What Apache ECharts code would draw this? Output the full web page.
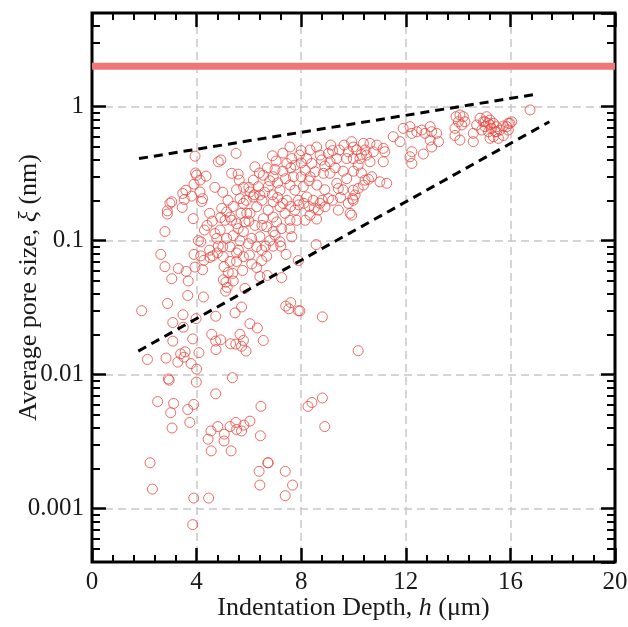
<!DOCTYPE html>
<html>
<head>
<meta charset="utf-8">
<script src="https://cdn.jsdelivr.net/npm/echarts@6/dist/echarts.min.js"></script>
<style>html,body{margin:0;padding:0;background:#fff}#chart{width:628px;height:627px}</style>
</head>
<body>
<div id="chart"></div>
<script>
// ---- data (indentation depth h in µm, average pore size xi in nm) ----
const depth = [
  2.92,2.95,5.37,3.99,4.73,2.51,3.12,3.89,3.01,3.66,3.06,3.74,6.46,4.55,4.81,4.44,5.06,5.05,4.56,5.28,5.50,5.53,5.72,5.81,6.04,5.32,6.44,6.72,6.74,6.39,7.39,6.42,7.67,7.39,2.22,2.31,3.89,4.46,3.85,8.26,8.41,8.81,8.90,
  2.79,3.05,3.30,3.60,3.68,3.66,2.89,1.90,3.48,3.09,3.49,3.09,3.39,3.56,3.28,3.52,3.79,4.00,2.12,2.83,3.85,4.09,4.26,3.98,4.73,4.58,4.73,4.74,4.92,5.30,5.50,5.66,5.79,5.72,5.89,6.04,6.32,6.55,5.47,5.72,5.11,5.17,5.85,5.40,5.12,6.42,6.70,7.25,7.41,7.60,7.53,7.89,7.95,8.81,10.18,7.89,8.57,7.22,3.94,4.23,4.28,4.51,5.05,5.28,5.21,5.02,5.38,5.76,5.53,6.11,6.30,6.49,6.68,6.02,5.98,6.49,6.63,6.93,7.42,4.83,
  3.94,4.83,4.93,5.51,3.96,4.00,4.36,4.13,3.90,5.34,5.59,5.63,5.53,3.59,3.47,3.81,3.53,4.13,4.23,4.19,3.05,2.98,3.45,2.88,2.88,3.87,2.79,2.63,5.66,4.96,5.15,5.28,4.92,5.09,5.34,5.53,5.59,4.70,4.77,5.15,5.40,5.66,4.07,4.16,3.90,4.16,4.62,4.79,5.02,5.28,5.53,5.79,
  7.57,7.04,7.45,7.64,7.76,7.93,8.21,8.34,8.59,8.72,8.78,9.04,9.13,9.10,9.36,9.46,9.64,9.74,9.99,8.40,8.15,8.53,8.34,8.85,9.10,9.36,9.42,9.74,6.23,6.55,6.93,6.17,6.36,6.74,6.04,7.19,7.57,7.76,8.08,8.21,7.89,8.46,8.72,8.91,8.65,9.04,8.34,8.15,8.59,9.80,9.87,7.45,7.19,7.38,7.57,7.76,6.93,6.74,6.93,6.55,6.30,6.04,5.85,6.23,6.68,6.93,7.25,6.42,6.11,7.19,7.64,5.79,5.79,
  9.99,9.42,7.83,7.57,7.06,5.92,6.17,6.42,
  6.00,6.20,6.50,6.60,6.90,7.10,7.30,7.60,7.90,8.10,8.30,8.50,8.80,9.20,9.50,9.60,8.90,8.60,8.30,8.00,7.70,7.40,7.10,6.80,6.40,6.70,7.00,7.30,7.60,8.00,8.90,9.30,9.60,10.00,10.30,10.70,9.80,10.30,9.20,8.00,7.30,6.90,5.20,5.00,4.70,4.50,4.40,4.60,4.30,4.90,5.00,4.50,5.60,6.30,6.80,7.00,6.50,6.00,5.70,5.40,5.80,5.90,
  9.93,10.38,10.63,10.89,11.14,11.20,10.12,10.44,10.76,9.99,10.25,10.50,10.18,10.63,11.14,11.52,11.78,11.90,12.16,12.23,12.42,12.61,12.73,12.93,12.99,13.18,12.93,13.25,12.99,12.23,12.16,12.23,12.67,10.44,10.57,11.01,11.27,10.38,10.18,9.99,10.06,9.97,9.93,
  13.92,14.07,14.20,14.01,14.26,14.14,13.88,13.88,14.07,14.58,14.71,14.84,14.90,14.58,15.09,15.22,15.16,15.35,15.03,15.28,15.47,15.16,15.41,15.60,15.35,15.54,15.73,15.86,15.98,16.05,15.92,15.22,15.03,15.22,14.97,15.92,15.73,15.47,16.75
];
const poreSize = [
  0.0093,0.0091,0.0095,0.0088,0.0072,0.0063,0.0061,0.0060,0.0052,0.0055,0.0040,0.0044,0.0058,0.0038,0.0041,0.0033,0.0036,0.0032,0.0027,0.0041,0.0044,0.0039,0.0038,0.0042,0.0045,0.0027,0.0035,0.0022,0.0022,0.0019,0.0019,0.0015,0.0015,0.00125,0.0022,0.0014,0.0012,0.0012,0.00076,0.0058,0.0062,0.0067,0.0041,
  0.064,0.052,0.062,0.059,0.050,0.039,0.034,0.030,0.028,0.0245,0.0226,0.0178,0.0143,0.0148,0.0124,0.0135,0.0121,0.011,0.013,0.0133,0.0185,0.0146,0.038,0.0262,0.0273,0.020,0.0178,0.0154,0.0182,0.017,0.0169,0.020,0.018,0.0163,0.015,0.024,0.0223,0.018,0.0289,0.032,0.042,0.0448,0.044,0.050,0.049,0.054,0.055,0.053,0.0325,0.0345,0.031,0.030,0.0299,0.027,0.0151,0.071,0.0935,0.091,0.0635,0.0607,0.0714,0.075,0.064,0.070,0.058,0.051,0.057,0.060,0.070,0.067,0.063,0.071,0.0765,0.078,0.095,0.085,0.091,0.091,0.079,0.091,
  0.427,0.388,0.40,0.448,0.32,0.308,0.303,0.283,0.264,0.318,0.314,0.283,0.24,0.238,0.225,0.215,0.203,0.231,0.206,0.196,0.195,0.19,0.177,0.167,0.158,0.146,0.117,0.079,0.206,0.174,0.164,0.15,0.149,0.142,0.142,0.134,0.123,0.113,0.104,0.104,0.109,0.10,0.10,0.098,0.079,0.077,0.077,0.081,0.076,0.09,0.081,0.076,
  0.50,0.393,0.377,0.41,0.366,0.435,0.41,0.475,0.50,0.435,0.40,0.448,0.517,0.388,0.41,0.475,0.517,0.41,0.50,0.377,0.336,0.327,0.30,0.318,0.318,0.268,0.245,0.29,0.356,0.308,0.30,0.283,0.253,0.253,0.231,0.238,0.26,0.238,0.253,0.212,0.20,0.20,0.19,0.179,0.169,0.206,0.155,0.142,0.145,0.19,0.16,0.20,0.179,0.16,0.142,0.169,0.195,0.169,0.15,0.146,0.179,0.16,0.138,0.13,0.127,0.117,0.123,0.107,0.104,0.098,0.107,0.117,0.19,
  0.20,0.169,0.142,0.123,0.138,0.16,0.212,0.219,
  0.25,0.22,0.20,0.23,0.22,0.21,0.19,0.18,0.185,0.19,0.18,0.175,0.20,0.20,0.21,0.24,0.24,0.26,0.28,0.30,0.30,0.29,0.27,0.28,0.32,0.35,0.34,0.33,0.35,0.38,0.36,0.35,0.33,0.33,0.32,0.30,0.46,0.44,0.47,0.47,0.45,0.43,0.20,0.23,0.25,0.16,0.13,0.14,0.12,0.12,0.09,0.085,0.085,0.09,0.10,0.11,0.13,0.14,0.16,0.18,0.25,0.20,
  0.548,0.532,0.532,0.517,0.488,0.461,0.475,0.475,0.461,0.41,0.41,0.435,0.366,0.388,0.388,0.597,0.548,0.689,0.709,0.632,0.65,0.669,0.632,0.709,0.65,0.632,0.563,0.548,0.50,0.461,0.423,0.377,0.443,0.283,0.287,0.275,0.268,0.26,0.245,0.238,0.219,0.206,0.155,
  0.842,0.867,0.842,0.772,0.772,0.73,0.689,0.61,0.563,0.632,0.73,0.82,0.669,0.548,0.842,0.795,0.751,0.751,0.709,0.689,0.709,0.65,0.65,0.669,0.597,0.58,0.61,0.709,0.751,0.772,0.669,0.58,0.772,0.73,0.772,0.751,0.717,0.65,0.945
];
// reference level (red band) and the two dashed bounds
const bandX = [0, 20];
const bandY = [2, 2];
const upperX = [1.80, 17.00];
const upperY = [0.41, 1.24];
const lowerX = [1.77, 17.49];
const lowerY = [0.015, 0.772];
// axes
const xRange = [0, 20];
const xStep = 4;
const yRange = [0.0004, 5];
const yMinorTicks = [0.0005,0.0006,0.0007,0.0008,0.0009,
  0.002,0.003,0.004,0.005,0.006,0.007,0.008,0.009,
  0.02,0.03,0.04,0.05,0.06,0.07,0.08,0.09,
  0.2,0.3,0.4,0.5,0.6,0.7,0.8,0.9,
  2,3,4];

const FONT = 'Liberation Serif';
const TXT = '#1a1a1a';
const grid = {color:'#c8c8c8', width:1.5, type:[8,5]};
const majorTick = {inside:true, length:14, lineStyle:{color:'#000', width:2.5}};
const minorTickStyle = {color:'#000', width:2};

const chart = echarts.init(document.getElementById('chart'), null, {renderer:'canvas'});

const points = depth.map((d, i) => [d, poreSize[i]]);
const zip = (a, b) => a.map((v, i) => [v, b[i]]);

const xBase = (pos, withLabels) => ({
  type:'value', min:xRange[0], max:xRange[1], interval:xStep, position:pos,
  axisLine:{show:false},
  axisTick:majorTick,
  minorTick:{show:true, splitNumber:5, length:7, lineStyle:minorTickStyle},
  axisLabel: withLabels ? {margin:8, fontFamily:FONT, fontSize:25, color:TXT} : {show:false},
  splitLine: withLabels ? {show:true, showMinLine:false, showMaxLine:false, lineStyle:grid} : {show:false}
});
const yMajor = (pos, withLabels) => ({
  type:'log', logBase:10, min:yRange[0], max:yRange[1], position:pos,
  axisLine:{show:false},
  axisTick:majorTick,
  axisLabel: withLabels ? {showMinLabel:false, showMaxLabel:false, margin:8, fontFamily:FONT, fontSize:25, color:TXT,
      formatter: v => String(parseFloat(Number(v).toPrecision(3)))} : {show:false},
  splitLine: withLabels ? {show:true, showMinLine:false, showMaxLine:false, lineStyle:grid} : {show:false}
});
const yMinor = (pos) => ({
  type:'log', logBase:10, min:yRange[0], max:yRange[1], position:pos,
  axisLine:{show:false},
  axisTick:{inside:true, length:8, customValues:yMinorTicks, lineStyle:minorTickStyle},
  axisLabel:{show:false},
  splitLine:{show:false}
});

const xMain = xBase('bottom', true);
xMain.name = '{n|Indentation Depth, }{i|h}{n| (\u03bcm)}';
xMain.nameLocation = 'middle';
xMain.nameGap = 33;
xMain.nameMoveOverlap = false;
xMain.nameTextStyle = {rich:{
  n:{fontFamily:FONT, fontSize:26, color:TXT},
  i:{fontFamily:FONT, fontSize:26, color:TXT, fontStyle:'italic'}
}};
const yMain = yMajor('left', true);
yMain.name = '{n|Average pore size, }{i|\u03be}{n| (nm)}';
yMain.nameLocation = 'middle';
yMain.nameGap = 50;
yMain.nameRotate = 90;
yMain.nameMoveOverlap = false;
yMain.nameTextStyle = {rich:{
  n:{fontFamily:FONT, fontSize:26, color:TXT},
  i:{fontFamily:FONT, fontSize:26, color:TXT, fontStyle:'italic'}
}};

chart.setOption({
  animation:false,
  backgroundColor:'#fff',
  grid:{left:92, right:13, top:13, bottom:65, show:true, borderColor:'#000', borderWidth:3,
        backgroundColor:'rgba(0,0,0,0)', outerBoundsMode:'none'},
  xAxis:[xMain, xBase('top', false)],
  yAxis:[yMain, yMinor('left'), yMajor('right', false), yMinor('right')],
  series:[
    {type:'line', data:zip(bandX, bandY), symbol:'none', silent:true, z:2,
     lineStyle:{color:'#ef7676', width:7}},
    {type:'scatter', data:points, symbol:'circle', symbolSize:10, z:3,
     itemStyle:{color:'rgba(0,0,0,0)', borderColor:'#e8473f', borderWidth:1}},
    {type:'line', data:zip(upperX, upperY), symbol:'none', z:4,
     lineStyle:{color:'#000', width:3, type:[9,6]}},
    {type:'line', data:zip(lowerX, lowerY), symbol:'none', z:4,
     lineStyle:{color:'#000', width:3, type:[9,6]}}
  ]
});
</script>
</body>
</html>
